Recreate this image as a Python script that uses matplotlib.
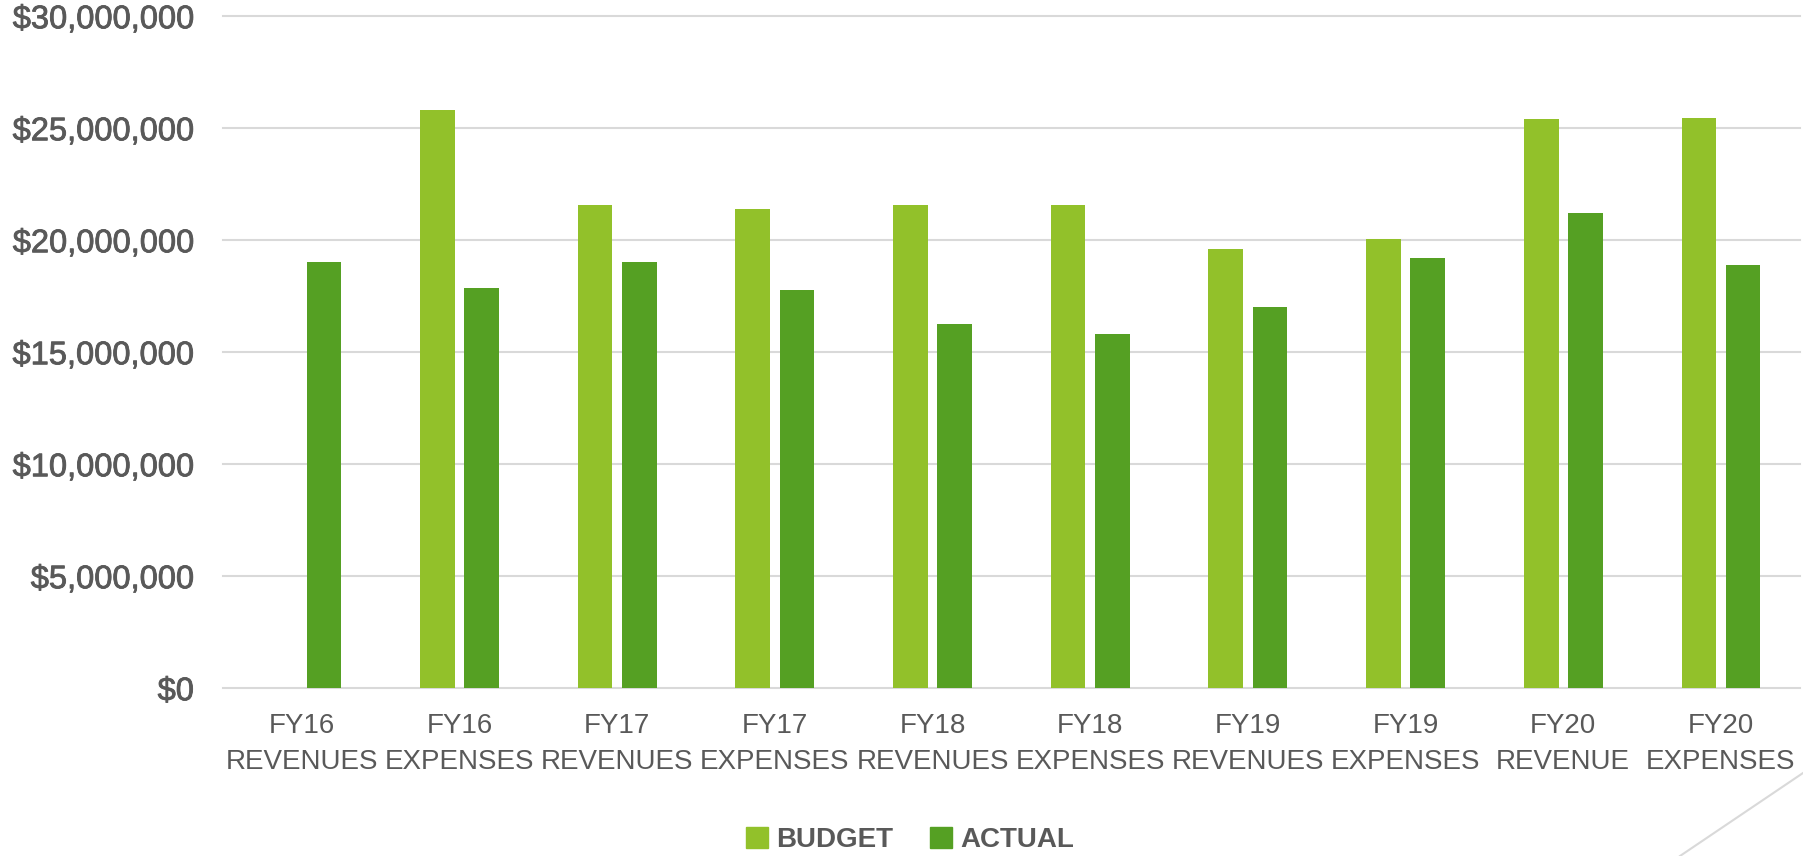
import numpy as np
import matplotlib.pyplot as plt
import matplotlib.patheffects as pe
from matplotlib.lines import Line2D
from matplotlib.patches import Patch
from matplotlib.ticker import FuncFormatter

categories = ["FY16\nREVENUES", "FY16\nEXPENSES", "FY17\nREVENUES", "FY17\nEXPENSES",
              "FY18\nREVENUES", "FY18\nEXPENSES", "FY19\nREVENUES", "FY19\nEXPENSES",
              "FY20\nREVENUE", "FY20\nEXPENSES"]
budget = [np.nan, 25.82e6, 21.58e6, 21.41e6, 21.58e6, 21.58e6, 19.61e6, 20.05e6, 25.43e6, 25.46e6]
actual = [19.02e6, 17.88e6, 19.05e6, 17.78e6, 16.28e6, 15.82e6, 17.0e6, 19.2e6, 21.2e6, 18.9e6]

c_budget = "#92C12A"
c_actual = "#55A023"
c_text = "#595959"
c_grid = "#D9D9D9"

plt.rcParams['font.family'] = ['Liberation Sans', 'DejaVu Sans']

fig = plt.figure(figsize=(18.03, 8.56), dpi=100)
ax = fig.add_axes([0.1237, 0.196, 0.8745, 0.785])

x = np.arange(len(categories))
w = 0.22
ax.bar(x - 0.14, budget, w, color=c_budget, zorder=3)
ax.bar(x + 0.14, actual, w, color=c_actual, zorder=3)

ax.set_xlim(-0.5, len(categories) - 0.5)
ax.set_ylim(0, 30e6)
ax.set_yticks(np.arange(0, 30e6 + 1, 5e6))
ax.yaxis.set_major_formatter(FuncFormatter(lambda v, p: "${:,.0f}".format(v)))
ax.grid(axis='y', color=c_grid, linewidth=1.5, zorder=0, clip_on=False)
for s in ax.spines.values():
    s.set_visible(False)
ax.tick_params(axis='y', length=0, pad=21, labelsize=23.5, labelcolor=c_text)
ax.tick_params(axis='x', length=0, pad=18, labelsize=20, labelcolor=c_text)
ax.set_xticks(x)
ax.set_xticklabels(categories, linespacing=1.5)
# y labels look a bit heavier in the original
for t in ax.get_yticklabels():
    t.set_path_effects([pe.withStroke(linewidth=0.6, foreground=c_text)])

handles = [Patch(color=c_budget, label="BUDGET"), Patch(color=c_actual, label="ACTUAL")]
leg = fig.legend(handles=handles, loc='center', bbox_to_anchor=(910 / 1803, 1 - 840 / 856),
                 ncol=2, frameon=False, handlelength=0.8, handleheight=0.8,
                 handletextpad=0.3, columnspacing=1.3, prop={'size': 20, 'weight': 'bold'})
for t in leg.get_texts():
    t.set_color(c_text)

# decorative diagonal line in bottom-right corner
fig.add_artist(Line2D([1680 / 1803, 1.0], [0, 1 - 773 / 856], transform=fig.transFigure,
                      color=c_grid, linewidth=1.5))

fig.savefig("out.png", dpi=100, facecolor="white")
